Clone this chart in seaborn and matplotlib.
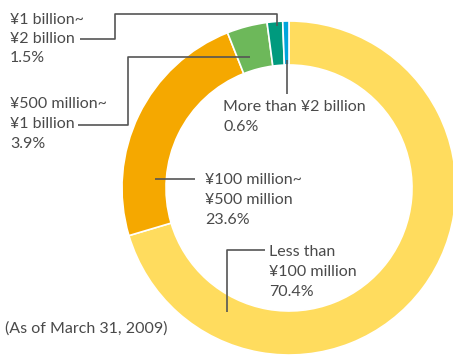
import matplotlib
matplotlib.use("Agg")
import matplotlib.pyplot as plt
import seaborn as sns

# Share of holdings by amount band
categories = ["Less than\n¥100 million", "¥100 million~\n¥500 million",
              "¥500 million~\n¥1 billion", "¥1 billion~\n¥2 billion",
              "More than ¥2 billion"]
shares = [70.4, 23.6, 3.9, 1.5, 0.6]
colors = ["#FFDC5E", "#F5A800", "#6DB85A", "#009A7E", "#00A5DC"]
note = "(As of March 31, 2009)"

sns.set_theme(style="white")
plt.rcParams["font.family"] = ["Lato", "DejaVu Sans"]

W, H = 453, 355
fig = plt.figure(figsize=(W / 100, H / 100), dpi=100)
ax = fig.add_axes([0, 0, 1, 1])

cx, cy, r = 289, H - 188, 167
ax.pie(shares, colors=colors, startangle=90, counterclock=False,
       center=(cx, cy), radius=r, frame=True,
       wedgeprops=dict(width=44, edgecolor="white", linewidth=1.2))
ax.set_xlim(0, W)
ax.set_ylim(0, H)
ax.set_aspect("equal")
ax.axis("off")

txt = "#4a4a4a"
lc = "#555555"
fs = 11.5
ls = 1.5


def y(p):
    return H - p


def label(x, ymid, s):
    ax.text(x, y(ymid), s, fontsize=fs, color=txt, ha="left", va="center",
            linespacing=ls)


def leader(xs, ys):
    ax.plot(xs, [y(v) for v in ys], color=lc, lw=1.2, solid_capstyle="butt")


# ¥1 billion~¥2 billion
label(10, 39, categories[3] + f"\n{shares[3]}%")
leader([80, 115, 115, 277, 277], [39, 39, 14, 14, 26])

# ¥500 million~¥1 billion
label(10, 124, categories[2] + f"\n{shares[2]}%")
leader([78, 128, 128, 250], [125, 125, 57, 57])

# ¥100 million~¥500 million
label(205, 200, categories[1] + f"\n{shares[1]}%")
leader([155, 195], [179, 179])

# Less than ¥100 million
label(269, 272, categories[0] + f"\n{shares[0]}%")
leader([265, 227, 227], [250, 250, 312])

# More than ¥2 billion
label(223, 117, categories[4] + f"\n{shares[4]}%")
leader([287, 287], [60, 94])

ax.text(5, y(329), note, fontsize=fs, color=txt, ha="left", va="center")

fig.savefig("out.png", dpi=100)
